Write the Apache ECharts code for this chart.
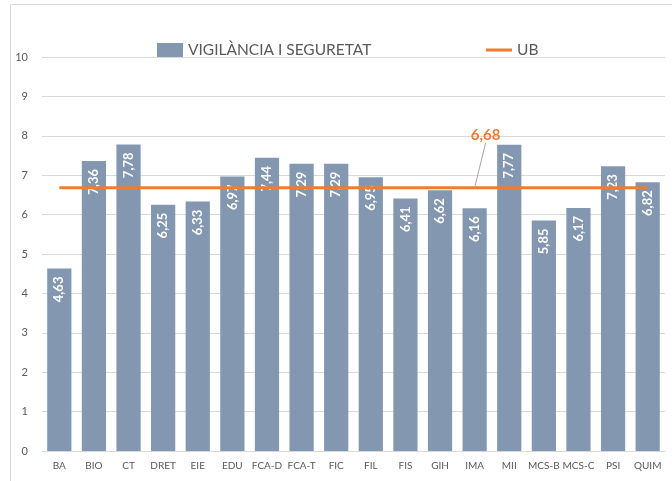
<!DOCTYPE html>
<html>
<head>
<meta charset="utf-8">
<script src="https://cdn.jsdelivr.net/npm/echarts@6/dist/echarts.min.js"></script>
<style>
  html, body { margin: 0; padding: 0; background: #fff; }
  #chart { width: 672px; height: 481px; }
</style>
</head>
<body>
<div id="chart"></div>
<script>
var categories = ['BA','BIO','CT','DRET','EIE','EDU','FCA-D','FCA-T','FIC','FIL','FIS','GIH','IMA','MII','MCS-B','MCS-C','PSI','QUIM'];
var vigilancia = [4.63,7.36,7.78,6.25,6.33,6.97,7.44,7.29,7.29,6.95,6.41,6.62,6.16,7.77,5.85,6.17,7.23,6.82];
var ub = [6.68,6.68,6.68,6.68,6.68,6.68,6.68,6.68,6.68,6.68,6.68,6.68,6.68,6.68,6.68,6.68,6.68,6.68];
var ubLabelIndex = 12;
var yTicks = [0,1,2,3,4,5,6,7,8,9,10];

function comma(v){ return v.toFixed(2).replace('.', ','); }

var font = 'Lato, "Open Sans", sans-serif';
var legendText = { color: '#595959', fontSize: 15.5, fontFamily: font };

var option = {
    backgroundColor: '#fff',
    animation: false,
    textStyle: { fontFamily: font },
    graphic: [{
        type: 'rect',
        shape: { x: 10.5, y: 4.5, width: 680, height: 500 },
        style: { fill: 'none', stroke: '#D9D9D9', lineWidth: 1 },
        silent: true
    }],
    legend: [
        {
            left: 152, top: 37,
            itemWidth: 26, itemHeight: 14,
            itemGap: 0,
            textStyle: legendText,
            data: [{ name: 'VIGILÀNCIA I SEGURETAT', icon: 'rect' }]
        },
        {
            left: 481, top: 37,
            itemWidth: 26, itemHeight: 3,
            textStyle: legendText,
            data: [{ name: 'UB', icon: 'rect', itemStyle: { color: '#ED7D31', opacity: 1 } }]
        }
    ],
    grid: { left: 42, right: 7, top: 57, bottom: 30, containLabel: false },
    xAxis: {
        type: 'category',
        data: categories,
        axisTick: { show: false },
        axisLine: { lineStyle: { color: '#D9D9D9', width: 1 } },
        axisLabel: { color: '#595959', fontSize: 10, margin: 10, interval: 0 }
    },
    yAxis: {
        type: 'value',
        min: yTicks[0],
        max: yTicks[yTicks.length - 1],
        interval: 1,
        axisLine: { show: false },
        axisTick: { show: false },
        axisLabel: { color: '#595959', fontSize: 11, margin: 14 },
        splitLine: { lineStyle: { color: '#D9D9D9', width: 1 } }
    },
    series: [
        {
            name: 'VIGILÀNCIA I SEGURETAT',
            type: 'bar',
            data: vigilancia,
            barCategoryGap: '30%',
            itemStyle: { color: '#8497B0' },
            label: {
                show: true,
                position: 'insideTop',
                rotate: 90,
                align: 'right',
                verticalAlign: 'middle',
                distance: 8,
                color: '#fff',
                fontWeight: 'bold',
                fontSize: 13,
                fontFamily: font,
                formatter: function(p){ return comma(p.value); }
            }
        },
        {
            name: 'UB',
            type: 'line',
            data: ub.map(function(v, i){
                return i === ubLabelIndex
                    ? { value: v, label: { show: true }, labelLine: { show: true } }
                    : v;
            }),
            symbol: 'circle',
            symbolSize: 0.1,
            showSymbol: true,
            lineStyle: { color: '#ED7D31', width: 3 },
            itemStyle: { color: 'rgba(0,0,0,0)' },
            z: 5,
            label: {
                show: false,
                position: 'top',
                distance: 5,
                color: '#ED7D31',
                fontWeight: 'bold',
                fontSize: 15,
                fontFamily: font,
                formatter: function(p){ return comma(p.value); }
            },
            labelLine: { show: false, lineStyle: { color: '#A6A6A6', width: 1 } },
            labelLayout: function(p){
                if (p.dataIndex === ubLabelIndex) return { dx: 11, dy: -40 };
                return {};
            }
        }
    ]
};

var myChart = echarts.init(document.getElementById('chart'));
myChart.setOption(option);
</script>
</body>
</html>
